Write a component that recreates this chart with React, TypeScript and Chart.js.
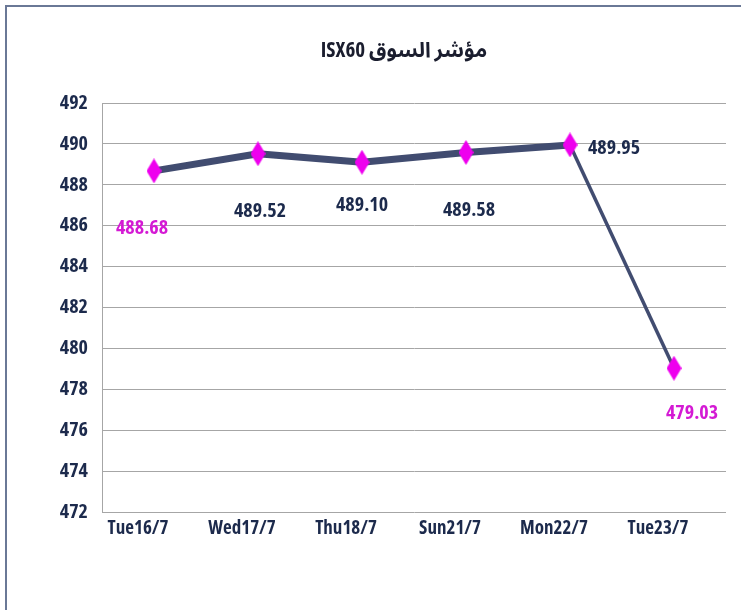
import React, { useEffect, useRef } from "react";
import { Chart, registerables } from "chart.js";

Chart.register(...registerables);

const titleText = "مؤشر السوق ISX60";
const categories = ["Tue16/7", "Wed17/7", "Thu18/7", "Sun21/7", "Mon22/7", "Tue23/7"];
const values = [488.68, 489.52, 489.1, 489.58, 489.95, 479.03];
const valueLabels = ["488.68", "489.52", "489.10", "489.58", "489.95", "479.03"];
const yMin = 472;
const yMax = 492;
const yStep = 2;

// label placement (style only): offset from the marker, and colour
const labelOffsets: [number, number][] = [
  [-12, 57],
  [2, 58],
  [0, 43],
  [3, 58],
  [44, 3],
  [18, 45],
];
const labelColors = ["#d41ad4", "#1c2a4c", "#1c2a4c", "#1c2a4c", "#1c2a4c", "#d41ad4"];

const FONT = "'Open Sans', 'Noto Sans Arabic', 'DejaVu Sans', sans-serif";
const W = "condensed bold";

function makeDiamond(): HTMLCanvasElement {
  const c = document.createElement("canvas");
  const w = 15;
  const h = 25;
  c.width = w;
  c.height = h;
  const g = c.getContext("2d")!;
  g.fillStyle = "#ee00ee";
  g.beginPath();
  g.moveTo(w / 2, 0);
  g.lineTo(w, h / 2);
  g.lineTo(w / 2, h);
  g.lineTo(0, h / 2);
  g.closePath();
  g.fill();
  return c;
}

const framePlugin = {
  id: "frame",
  beforeDraw(chart: any) {
    const ctx = chart.ctx;
    ctx.save();
    ctx.fillStyle = "#ffffff";
    ctx.fillRect(0, 0, chart.width, chart.height);
    ctx.fillStyle = "#6a7896";
    ctx.fillRect(5, 5, chart.width - 5, 2);
    ctx.fillRect(5, 5, 2, chart.height - 5);
    // title
    ctx.direction = "rtl";
    ctx.textAlign = "center";
    ctx.textBaseline = "middle";
    ctx.fillStyle = "#1a1d2e";
    ctx.font = W + " 21px " + FONT;
    ctx.fillText(titleText, 404, 51);
    ctx.restore();
  },
};

const labelPlugin = {
  id: "valueLabels",
  afterDatasetsDraw(chart: any) {
    const ctx = chart.ctx;
    const meta = chart.getDatasetMeta(0);
    ctx.save();
    ctx.font = W + " 20px " + FONT;
    ctx.textAlign = "center";
    ctx.textBaseline = "middle";
    meta.data.forEach((pt: any, i: number) => {
      const [dx, dy] = labelOffsets[i];
      ctx.fillStyle = labelColors[i];
      ctx.fillText(valueLabels[i], pt.x + dx, pt.y + dy);
    });
    ctx.restore();
  },
};

export default function App() {
  const ref = useRef<HTMLCanvasElement>(null);
  useEffect(() => {
    const diamond = makeDiamond();
    const chart = new Chart(ref.current!, {
      type: "line",
      data: {
        labels: categories,
        datasets: [
          {
            data: values,
            borderColor: "#414c70",
            borderWidth: 7,
            borderJoinStyle: "round",
            pointStyle: diamond as any,
            pointRadius: 8,
            pointHoverRadius: 8,
            tension: 0,
            segment: {
              borderWidth: (c: any) => (c.p1DataIndex === 5 ? 3.5 : 7),
            },
          },
        ],
      },
      options: {
        animation: false,
        responsive: false,
        devicePixelRatio: 1,
        layout: { padding: { top: 103, right: 15, left: 0, bottom: 0 } },
        plugins: {
          legend: { display: false },
          tooltip: { enabled: false },
          title: { display: false },
        },
        scales: {
          x: {
            offset: true,
            grid: { display: false, drawTicks: false },
            border: { display: false },
            ticks: {
              color: "#1c2a4c",
              font: { family: FONT, size: 19, weight: W as any },
              padding: 5,
              labelOffset: -16,
              maxRotation: 0,
              autoSkip: false,
            },
            afterFit: (s: any) => {
              s.height = 98;
            },
          },
          y: {
            min: yMin,
            max: yMax,
            grid: { color: "#a6a6a6", lineWidth: 1, drawTicks: false },
            border: { display: true, color: "#a6a6a6", width: 1 },
            ticks: {
              stepSize: yStep,
              color: "#1c2a4c",
              font: { family: FONT, size: 20, weight: W as any },
              padding: 14,
            },
            afterFit: (s: any) => {
              s.width = 102;
            },
          },
        },
      },
      plugins: [framePlugin, labelPlugin],
    });
    return () => chart.destroy();
  }, []);
  return (
    <div style={{ position: "absolute", left: 0, top: 0, width: 741, height: 610 }}>
      <canvas ref={ref} width={741} height={610} />
    </div>
  );
}
